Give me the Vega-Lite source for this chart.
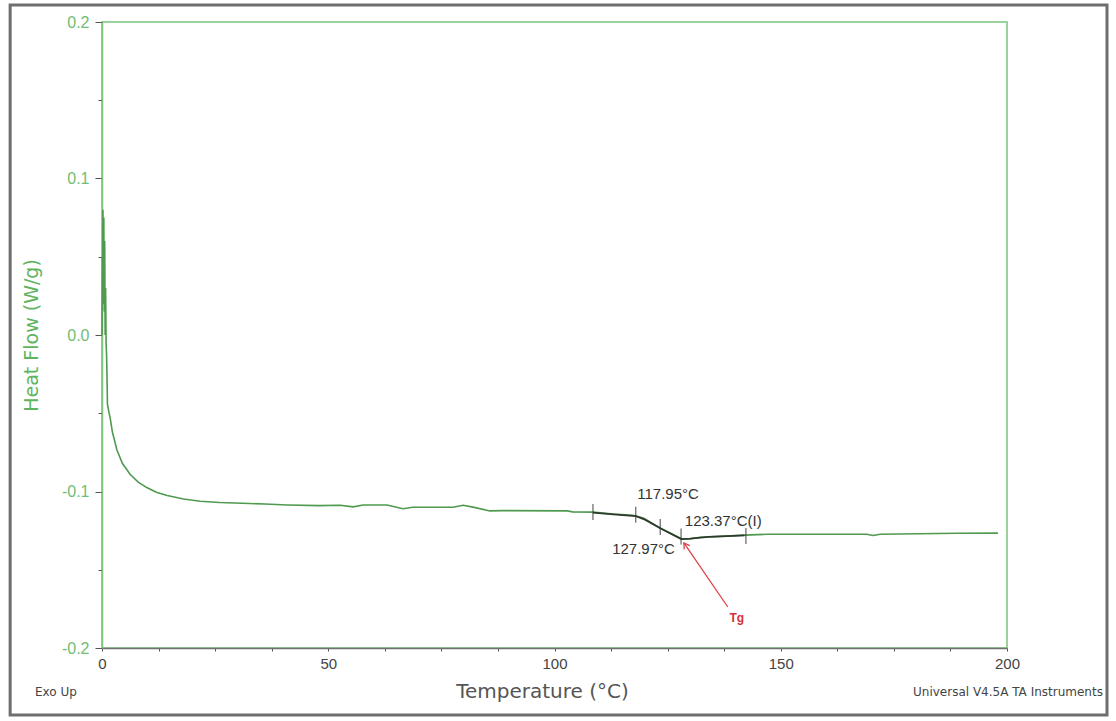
{
  "$schema": "https://vega.github.io/schema/vega-lite/v6.json",
  "width": 905,
  "height": 626,
  "autosize": "none",
  "padding": {"left": 102, "top": 22, "right": 109, "bottom": 73},
  "background": "white",
  "config": {
    "view": {"stroke": "#7cc47c", "strokeWidth": 1.5},
    "font": "Liberation Sans"
  },
  "datasets": {
    "curve": [
      {"t": 0.0, "hf": 0.0}, {"t": 0.1, "hf": 0.05}, {"t": 0.15, "hf": 0.02}, {"t": 0.2, "hf": 0.08}, {"t": 0.3, "hf": 0.035},
      {"t": 0.4, "hf": 0.075}, {"t": 0.5, "hf": 0.015}, {"t": 0.6, "hf": 0.06}, {"t": 0.7, "hf": 0.0},
      {"t": 0.8, "hf": 0.03}, {"t": 0.9, "hf": -0.005}, {"t": 1.0, "hf": -0.012}, {"t": 1.1, "hf": -0.025},
      {"t": 1.2, "hf": -0.044}, {"t": 1.5, "hf": -0.049}, {"t": 1.8, "hf": -0.053}, {"t": 2.3, "hf": -0.062},
      {"t": 3.3, "hf": -0.0735}, {"t": 4.5, "hf": -0.082}, {"t": 6.2, "hf": -0.089}, {"t": 8.0, "hf": -0.094},
      {"t": 9.9, "hf": -0.0975}, {"t": 12.0, "hf": -0.1005}, {"t": 14.4, "hf": -0.1025}, {"t": 18.0, "hf": -0.1048},
      {"t": 21.7, "hf": -0.1062}, {"t": 26.0, "hf": -0.107}, {"t": 31.0, "hf": -0.1075}, {"t": 36.0, "hf": -0.108},
      {"t": 41.0, "hf": -0.1086}, {"t": 48.0, "hf": -0.109}, {"t": 52.6, "hf": -0.1088}, {"t": 55.5, "hf": -0.1098},
      {"t": 57.7, "hf": -0.1086}, {"t": 63.0, "hf": -0.1086}, {"t": 66.5, "hf": -0.111}, {"t": 68.7, "hf": -0.1101},
      {"t": 77.6, "hf": -0.1101}, {"t": 79.8, "hf": -0.1088}, {"t": 82.0, "hf": -0.11}, {"t": 85.7, "hf": -0.1124},
      {"t": 88.6, "hf": -0.1122}, {"t": 102.8, "hf": -0.1124}, {"t": 104.0, "hf": -0.113}, {"t": 108.5, "hf": -0.1132},
      {"t": 113.0, "hf": -0.1144}, {"t": 117.3, "hf": -0.1152}, {"t": 119.6, "hf": -0.117}, {"t": 123.3, "hf": -0.1233},
      {"t": 128.2, "hf": -0.1304}, {"t": 130.0, "hf": -0.1302}, {"t": 132.2, "hf": -0.1292}, {"t": 138.0, "hf": -0.1285},
      {"t": 142.0, "hf": -0.1279}, {"t": 147.0, "hf": -0.1273}, {"t": 169.0, "hf": -0.1273}, {"t": 170.4, "hf": -0.1281},
      {"t": 172.0, "hf": -0.1273}, {"t": 189.0, "hf": -0.1267}, {"t": 198.0, "hf": -0.1266}
    ],
    "analysis": [
      {"t": 108.5, "hf": -0.1135}, {"t": 113.0, "hf": -0.1146}, {"t": 118.0, "hf": -0.1158}, {"t": 120.0, "hf": -0.118},
      {"t": 123.4, "hf": -0.1235}, {"t": 128.0, "hf": -0.1304}, {"t": 130.0, "hf": -0.1301}, {"t": 134.0, "hf": -0.129},
      {"t": 138.0, "hf": -0.1285}, {"t": 142.0, "hf": -0.128}
    ],
    "marks": [
      {"t": 108.5, "hf": -0.1131}, {"t": 117.95, "hf": -0.1148}, {"t": 123.37, "hf": -0.1227},
      {"t": 127.97, "hf": -0.1288}, {"t": 142.3, "hf": -0.1285}
    ],
    "labels": [
      {"t": 125.1, "hf": -0.1016, "text": "117.95°C", "pos": "center"},
      {"t": 128.8, "hf": -0.1188, "text": "123.37°C(I)", "pos": "left"},
      {"t": 126.6, "hf": -0.1367, "text": "127.97°C", "pos": "right"},
      {"t": -14.8, "hf": -0.2281, "text": "Exo Up", "pos": "footleft"},
      {"t": 221.2, "hf": -0.2281, "text": "Universal V4.5A TA Instruments", "pos": "footright"}
    ],
    "arrow": [
      {"t": 138.3, "hf": -0.1738}, {"t": 128.6, "hf": -0.1329}
    ],
    "tip": [{"t": 128.6, "hf": -0.1329}],
    "tg": [{"t": 140.3, "hf": -0.1808, "text": "Tg"}],
    "frame": [{"t": -20.3, "t2": 222.1, "hf": 0.2109, "hf2": -0.2428}]
  },
  "layer": [
    {
      "data": {"name": "frame"},
      "mark": {"type": "rect", "fill": null, "stroke": "#6e6e6e", "strokeWidth": 3, "clip": false},
      "encoding": {
        "x": {"field": "t", "type": "quantitative"},
        "x2": {"field": "t2"},
        "y": {"field": "hf", "type": "quantitative"},
        "y2": {"field": "hf2"}
      }
    },
    {
      "data": {"name": "curve"},
      "mark": {"type": "line", "color": "#4f9a4f", "strokeWidth": 1.6, "interpolate": "linear"},
      "encoding": {
        "x": {
          "field": "t", "type": "quantitative",
          "scale": {"domain": [0, 200], "nice": false, "zero": false},
          "axis": {
            "title": "Temperature (°C)",
            "values": [0, 12.5, 25, 37.5, 50, 62.5, 75, 87.5, 100, 112.5, 125, 137.5, 150, 162.5, 175, 187.5, 200],
            "labelExpr": "datum.value % 50 === 0 ? datum.label : ''",
            "format": "d",
            "labelFlush": false,
            "grid": false,
            "domainColor": "#707070",
            "domainWidth": 1.5,
            "tickColor": "#555555",
            "tickSize": 3,
            "labelColor": "#444444",
            "labelFontSize": 15,
            "labelFont": "Liberation Sans",
            "labelPadding": 5,
            "titleFont": "DejaVu Sans",
            "titleFontSize": 20,
            "titleFontWeight": "normal",
            "titleColor": "#555555",
            "titlePadding": 10,
            "titleX": 440,
            "titleAlign": "center"
          }
        },
        "y": {
          "field": "hf", "type": "quantitative",
          "scale": {"domain": [-0.2, 0.2], "nice": false, "zero": false},
          "axis": {
            "title": "Heat Flow (W/g)",
            "values": [-0.2, -0.175, -0.15, -0.125, -0.1, -0.075, -0.05, -0.025, 0, 0.025, 0.05, 0.075, 0.1, 0.125, 0.15, 0.175, 0.2],
            "labelExpr": "abs(datum.value*10 - round(datum.value*10)) < 1e-6 ? replace(format(datum.value, '.1f'), '\u2212', '-') : ''",
            "labelFlush": false,
            "grid": false,
            "domainColor": "#7cc47c",
            "domainWidth": 1.5,
            "tickColor": "#555555",
            "tickSize": {"condition": {"test": "abs(datum.value*10 - round(datum.value*10)) < 1e-6", "value": 7}, "value": 4},
            "labelColor": "#72bd72",
            "labelFontSize": 16,
            "labelFont": "Liberation Sans",
            "labelPadding": 6,
            "titleFont": "DejaVu Sans",
            "titleFontSize": 19,
            "titleFontWeight": "normal",
            "titleColor": "#5fb55f",
            "titlePadding": 20
          }
        }
      }
    },
    {
      "mark": {"type": "rule", "color": "#707070", "strokeWidth": 1.5},
      "encoding": {"y": {"datum": 0.2, "type": "quantitative"}}
    },
    {
      "data": {"name": "analysis"},
      "mark": {"type": "line", "color": "#2f3a2f", "strokeWidth": 1.8},
      "encoding": {
        "x": {"field": "t", "type": "quantitative"},
        "y": {"field": "hf", "type": "quantitative"}
      }
    },
    {
      "data": {"name": "marks"},
      "mark": {"type": "tick", "orient": "vertical", "color": "#333333", "size": 16, "thickness": 1.3},
      "encoding": {
        "x": {"field": "t", "type": "quantitative"},
        "y": {"field": "hf", "type": "quantitative"}
      }
    },
    {
      "data": {"name": "labels"},
      "transform": [{"filter": "datum.pos === 'center'"}],
      "mark": {"type": "text", "font": "Liberation Sans", "fontSize": 15, "color": "#333333", "baseline": "middle", "align": "center"},
      "encoding": {
        "x": {"field": "t", "type": "quantitative"},
        "y": {"field": "hf", "type": "quantitative"},
        "text": {"field": "text"}
      }
    },
    {
      "data": {"name": "labels"},
      "transform": [{"filter": "datum.pos === 'left'"}],
      "mark": {"type": "text", "font": "Liberation Sans", "fontSize": 15, "color": "#333333", "baseline": "middle", "align": "left"},
      "encoding": {
        "x": {"field": "t", "type": "quantitative"},
        "y": {"field": "hf", "type": "quantitative"},
        "text": {"field": "text"}
      }
    },
    {
      "data": {"name": "labels"},
      "transform": [{"filter": "datum.pos === 'right'"}],
      "mark": {"type": "text", "font": "Liberation Sans", "fontSize": 15, "color": "#333333", "baseline": "middle", "align": "right"},
      "encoding": {
        "x": {"field": "t", "type": "quantitative"},
        "y": {"field": "hf", "type": "quantitative"},
        "text": {"field": "text"}
      }
    },
    {
      "data": {"name": "labels"},
      "transform": [{"filter": "datum.pos === 'footleft'"}],
      "mark": {"type": "text", "font": "DejaVu Sans", "fontSize": 12, "color": "#444444", "baseline": "middle", "align": "left"},
      "encoding": {
        "x": {"field": "t", "type": "quantitative"},
        "y": {"field": "hf", "type": "quantitative"},
        "text": {"field": "text"}
      }
    },
    {
      "data": {"name": "labels"},
      "transform": [{"filter": "datum.pos === 'footright'"}],
      "mark": {"type": "text", "font": "DejaVu Sans", "fontSize": 12, "color": "#444444", "baseline": "middle", "align": "right"},
      "encoding": {
        "x": {"field": "t", "type": "quantitative"},
        "y": {"field": "hf", "type": "quantitative"},
        "text": {"field": "text"}
      }
    },
    {
      "data": {"name": "arrow"},
      "mark": {"type": "line", "color": "#e0404a", "strokeWidth": 1.3},
      "encoding": {
        "x": {"field": "t", "type": "quantitative"},
        "y": {"field": "hf", "type": "quantitative"}
      }
    },
    {
      "data": {"name": "tip"},
      "mark": {"type": "point", "shape": "M -0.6 1 L 0 0 L 0.6 1", "filled": false, "stroke": "#e0404a", "strokeWidth": 1.3, "size": 120, "angle": 326, "opacity": 1},
      "encoding": {
        "x": {"field": "t", "type": "quantitative"},
        "y": {"field": "hf", "type": "quantitative"}
      }
    },
    {
      "data": {"name": "tg"},
      "mark": {"type": "text", "font": "Liberation Sans", "fontSize": 12, "fontWeight": "bold", "color": "#d8303a", "baseline": "middle", "align": "center"},
      "encoding": {
        "x": {"field": "t", "type": "quantitative"},
        "y": {"field": "hf", "type": "quantitative"},
        "text": {"field": "text"}
      }
    }
  ]
}
